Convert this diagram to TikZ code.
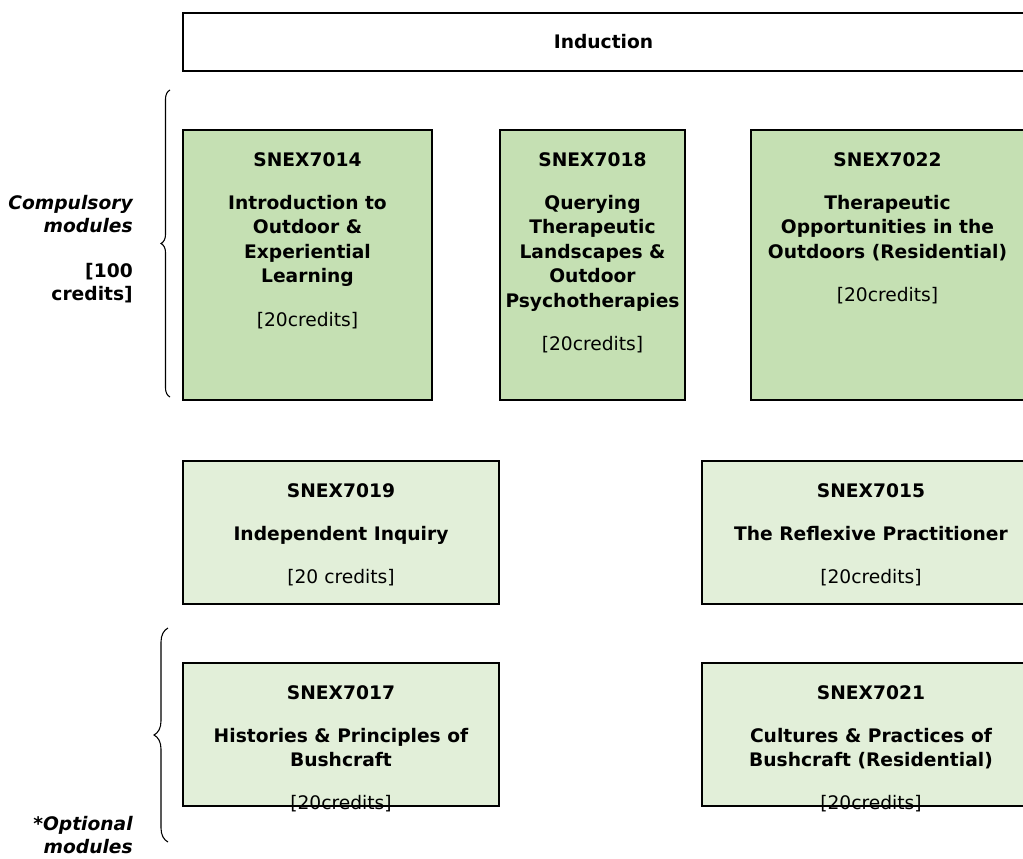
\documentclass[tikz,border=0pt]{standalone}
\usepackage{fontspec}
\setmainfont{DejaVu Sans}
\usetikzlibrary{positioning,fit,decorations.pathreplacing}

\definecolor{coregreen}{HTML}{C5E0B3}
\definecolor{palegreen}{HTML}{E2EFD9}

\tikzset{
  % module boxes
  module/.style={draw=black, line width=1.1pt, inner sep=0pt},
  core module/.style={module, fill=coregreen},
  option module/.style={module, fill=palegreen},
  % text set inside a box
  module text/.style={align=center, inner sep=0pt,
    font=\fontsize{14}{18.4}\selectfont\bfseries},
  % labels left of the braces
  side label/.style={align=right, anchor=east, inner sep=0pt,
    font=\fontsize{14}{17.6}\selectfont\bfseries},
  curly/.style={decorate, decoration={brace, amplitude=#1}, line width=0.8pt},
}
\newcommand{\modcode}[1]{#1\\[14pt]}
\newcommand{\credits}[1]{\\[14pt]{\mdseries #1}}

\begin{document}
\begin{tikzpicture}[x=0.75pt, y=-0.75pt]
\useasboundingbox (0,0) rectangle (1023,859);
\clip (0,0) rectangle (1023,859);

% Induction
\node[fit={(183,13) (1024,71)}, module] (induction) {};
\node[module text] (inductiontext) at (induction.center) {Induction};

% Compulsory modules
\node[fit={(183,130) (432,400)}, core module] (m7014) {};
\node[fit={(500,130) (685,400)}, core module] (m7018) {};
\node[fit={(751,130) (1024,400)}, core module] (m7022) {};

\node[module text, below=17pt of m7014.north] (t7014)
  {\modcode{SNEX7014}Introduction to\\Outdoor \&\\Experiential\\Learning\credits{[20credits]}};
\node[module text, below=17pt of m7018.north] (t7018)
  {\modcode{SNEX7018}Querying\\Therapeutic\\Landscapes \&\\Outdoor\\Psychotherapies\credits{[20credits]}};
\node[module text, below=17pt of m7022.north] (t7022)
  {\modcode{SNEX7022}Therapeutic\\Opportunities in the\\Outdoors (Residential)\credits{[20credits]}};

% Middle row
\node[fit={(183,461) (499,604)}, option module] (m7019) {};
\node[fit={(702,461) (1040,604)}, option module] (m7015) {};

\node[module text, below=17pt of m7019.north] (t7019)
  {\modcode{SNEX7019}Independent Inquiry\credits{[20 credits]}};
\node[module text, below=17pt of m7015.north] (t7015)
  {\modcode{SNEX7015}The Reflexive Practitioner\credits{[20credits]}};

% Optional modules
\node[fit={(183,663) (499,806)}, option module] (m7017) {};
\node[fit={(702,663) (1040,806)}, option module] (m7021) {};

\node[module text, below=17pt of m7017.north] (t7017)
  {\modcode{SNEX7017}Histories \& Principles of\\Bushcraft\credits{[20credits]}};
\node[module text, below=17pt of m7021.north] (t7021)
  {\modcode{SNEX7021}Cultures \& Practices of\\Bushcraft (Residential)\credits{[20credits]}};

% Braces and their labels
\draw[curly=6.75pt] (170,397) -- (170,90);
\draw[curly=10.5pt] (168,842) -- (168,628);

\node[side label, font=\fontsize{14}{17.6}\selectfont\bfseries\itshape] (compulsory) at (133,214) {Compulsory\\modules};
\node[side label] (compcredits) at (133,283) {[100\\credits]};
\node[side label, font=\fontsize{14}{17.6}\selectfont\bfseries\itshape] (optional) at (133,835) {*Optional\\modules};

\end{tikzpicture}
\end{document}
